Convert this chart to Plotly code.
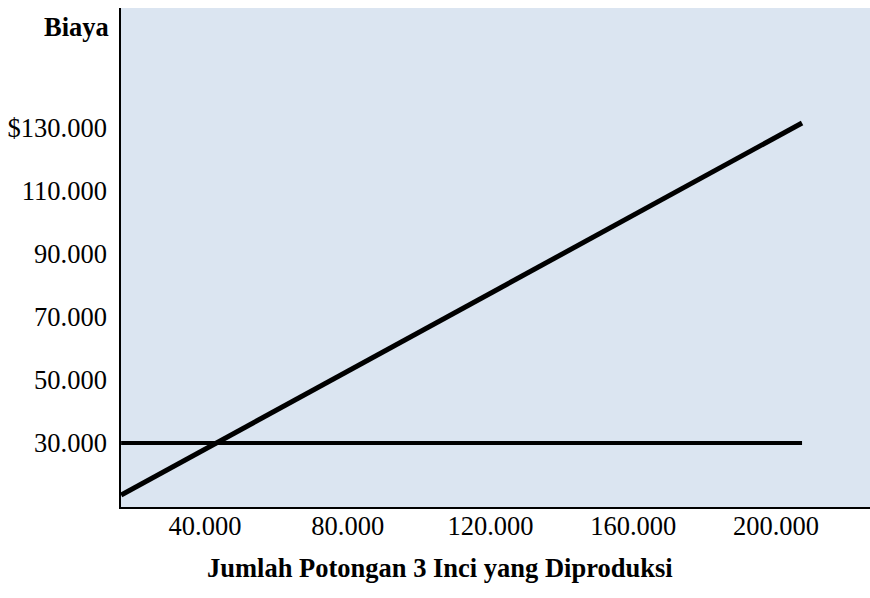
import plotly.graph_objects as go

# Units produced (x) and cost (y) for the two cost lines
units = [16500, 207300]
variable_cost = [13500, 131600]
fixed_cost = [30000, 30000]

x_ticks = [40000, 80000, 120000, 160000, 200000]
x_labels = ["40.000", "80.000", "120.000", "160.000", "200.000"]
y_ticks = [30000, 50000, 70000, 90000, 110000, 130000]
y_labels = ["30.000", "50.000", "70.000", "90.000", "110.000", "$130.000"]

FONT = "Liberation Serif, Times New Roman, serif"

fig = go.Figure()
fig.add_trace(go.Scatter(x=units, y=fixed_cost, mode="lines",
                         line=dict(color="black", width=4), hoverinfo="skip"))
fig.add_trace(go.Scatter(x=units, y=variable_cost, mode="lines",
                         line=dict(color="black", width=5), hoverinfo="skip"))

fig.update_layout(
    width=870, height=598,
    margin=dict(l=121, r=0, t=8, b=91),
    paper_bgcolor="white",
    plot_bgcolor="#DBE5F1",
    showlegend=False,
    font=dict(family=FONT, size=26.5, color="black"),
    xaxis=dict(range=[16465, 226340], tickvals=x_ticks, ticktext=x_labels,
               showgrid=False, zeroline=False, showline=True, linecolor="black",
               linewidth=1.5, ticks="", ticklabelstandoff=-6),
    yaxis=dict(range=[9700, 168100], tickvals=y_ticks, ticktext=y_labels,
               showgrid=False, zeroline=False, showline=True, linecolor="black",
               linewidth=1.5, ticks="", ticklabelstandoff=7),
    annotations=[
        dict(text="<b>Biaya</b>", xref="paper", yref="paper",
             x=-0.013, y=0.962, xanchor="right", yanchor="middle",
             showarrow=False, font=dict(size=26.5)),
        dict(text="<b>Jumlah Potongan 3 Inci yang Diproduksi</b>",
             xref="paper", yref="paper", x=0.426, y=-0.122,
             xanchor="center", yanchor="middle", showarrow=False,
             font=dict(size=26.5)),
    ],
)

fig.write_html("out.html")
